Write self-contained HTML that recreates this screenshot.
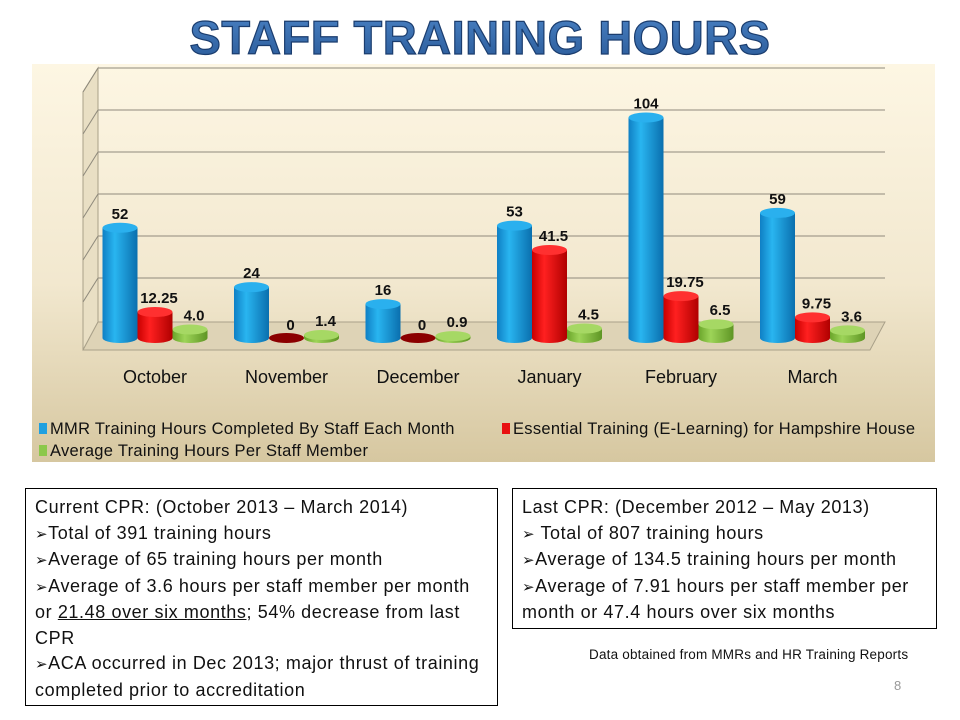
<!DOCTYPE html>
<html><head><meta charset="utf-8">
<style>
body{margin:0;width:960px;height:720px;background:#fff;position:relative;overflow:hidden;font-family:"Liberation Sans",sans-serif}
.box{position:absolute;border:1.3px solid #000;box-sizing:border-box;padding:6px 0 0 9px;font-size:18px;letter-spacing:0.6px;line-height:25.5px;color:#111;white-space:nowrap}
.ar{font-size:15px}
</style></head><body>
<svg width="960" height="720" style="position:absolute;left:0;top:0">
<defs>
<linearGradient id="bg" x1="0" y1="0" x2="0" y2="1"><stop offset="0" stop-color="#fdf6e3"/><stop offset="0.55" stop-color="#f2e8cf"/><stop offset="1" stop-color="#d6c7a0"/></linearGradient>
<linearGradient id="gb" x1="0" x2="1"><stop offset="0" stop-color="#0f7fc4"/><stop offset="0.35" stop-color="#29b5f0"/><stop offset="1" stop-color="#0a6fae"/></linearGradient>
<linearGradient id="gr" x1="0" x2="1"><stop offset="0" stop-color="#c80000"/><stop offset="0.35" stop-color="#ff2020"/><stop offset="1" stop-color="#b00000"/></linearGradient>
<linearGradient id="gg" x1="0" x2="1"><stop offset="0" stop-color="#6aa52a"/><stop offset="0.35" stop-color="#9dd458"/><stop offset="1" stop-color="#5e9524"/></linearGradient>
<linearGradient id="tg" x1="0" y1="0" x2="0" y2="1"><stop offset="0" stop-color="#4a82c4"/><stop offset="1" stop-color="#2a5a98"/></linearGradient>
</defs>
<text x="480" y="54" text-anchor="middle" font-size="47" font-weight="bold" letter-spacing="0.5" fill="url(#tg)" stroke="#1b3d6e" stroke-width="1.2">STAFF TRAINING HOURS</text>
<rect x="32" y="64" width="903" height="398" fill="url(#bg)"/>
<g id="grid"></g>
<g id="bars"></g>
<g id="legend" font-size="16.5" letter-spacing="0.3" fill="#111">
<rect x="39" y="423" width="8" height="11" fill="#1fa0e0"/>
<text x="50" y="434">MMR Training Hours Completed By Staff Each Month</text>
<rect x="502" y="423" width="8" height="11" fill="#e81010"/>
<text x="513" y="434">Essential Training (E-Learning) for Hampshire House</text>
<rect x="39" y="445" width="8" height="11" fill="#8cc84a"/>
<text x="50" y="456">Average Training Hours Per Staff Member</text>
</g>
</svg>
<div class="box" style="left:25px;top:488px;width:473px;height:218px">Current CPR: (October 2013 – March 2014)<br><span class="ar">➢</span>Total of 391 training hours<br><span class="ar">➢</span>Average of 65 training hours per month<br><span class="ar">➢</span>Average of 3.6 hours per staff member per month<br>or <u>21.48 over six months</u>; 54% decrease from last<br>CPR<br><span class="ar">➢</span>ACA occurred in Dec 2013; major thrust of training<br>completed prior to accreditation</div>
<div class="box" style="left:512px;top:488px;width:425px;height:141px">Last CPR: (December 2012 – May 2013)<br><span class="ar">➢</span> Total of 807 training hours<br><span class="ar">➢</span>Average of 134.5 training hours per month<br><span class="ar">➢</span>Average of 7.91 hours per staff member per<br>month or 47.4 hours over six months</div>
<div style="position:absolute;left:589px;top:647px;font-size:13.5px;letter-spacing:0.2px;color:#111">Data obtained from MMRs and HR Training Reports</div>
<div style="position:absolute;left:894px;top:678px;font-size:13px;color:#999">8</div>
<script>
const categories=["October","November","December","January","February","March"];
const mmr=[52,24,16,53,104,59];
const essential=[12.25,0,0,41.5,19.75,9.75];
const avg=[4.0,1.4,0.9,4.5,6.5,3.6];
const labelsMMR=["52","24","16","53","104","59"];
const labelsEss=["12.25","0","0","41.5","19.75","9.75"];
const labelsAvg=["4.0","1.4","0.9","4.5","6.5","3.6"];
const NS="http://www.w3.org/2000/svg";
const base=338, scale=2.12, x0=120, step=131.5, bw=35;
const yS=v=>base-v*scale;
const xS=(i,s)=>x0+i*step+s*bw;
function mk(t,a,p){const e=document.createElementNS(NS,t);for(const k in a)e.setAttribute(k,a[k]);p.appendChild(e);return e;}
const grid=document.getElementById('grid');
mk('polygon',{points:"83,92 98,68 98,322 83,350",fill:"#e9dfc4",stroke:"#a9a089","stroke-width":1},grid);
mk('polygon',{points:"98,322 885,322 870,350 83,350",fill:"#ded3b6",stroke:"#a9a089","stroke-width":1},grid);
for(let k=0;k<6;k++){const y=68+k*42;
const g=mk('line',{x1:98,x2:885,y1:y,y2:y,stroke:"#8f8a7c","stroke-width":1},grid);


mk('line',{x1:83,x2:98,y1:y+24,y2:y,stroke:"#8f8a7c","stroke-width":1},grid);}
const bars=document.getElementById('bars');
const series=[[mmr,'url(#gb)','#2ab0ee',labelsMMR,'mmr'],[essential,'url(#gr)','#ff3030',labelsEss,'essential'],[avg,'url(#gg)','#a6d864',labelsAvg,'average']];
categories.forEach((c,i)=>{
 series.forEach((s,si)=>{
  const v=s[0][i],cx=xS(i,si),top=yS(v),rx=bw/2,ry=5;
  const g=mk('g',{},bars);
  
  
  if(v===0){mk('ellipse',{cx:cx,cy:base,rx:rx,ry:ry,fill:'#8b0000'},g);}
  else{
   mk('ellipse',{cx:cx,cy:base,rx:rx,ry:ry,fill:s[1]},g);
   mk('rect',{x:cx-rx,y:top,width:bw,height:base-top,fill:s[1]},g);
   mk('ellipse',{cx:cx,cy:top,rx:rx,ry:ry,fill:s[2]},g);
  }
  const t=mk('text',{x:cx+(si===0?0:4),y:(v===0?base-8:top-9),'text-anchor':'middle','font-size':15,'font-weight':'bold',fill:'#111'},g);
  t.textContent=s[3][i];
 });
 const l=mk('text',{x:xS(i,1),y:383,'text-anchor':'middle','font-size':18,fill:'#111'},bars);
 
 
 l.textContent=c;
});
</script>
</body></html>
